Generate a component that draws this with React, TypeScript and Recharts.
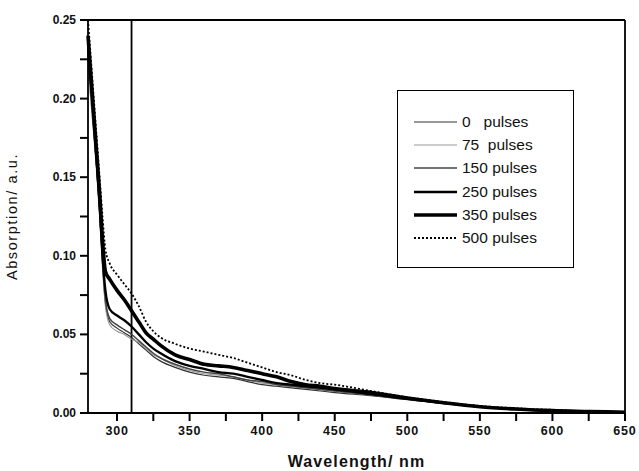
import React from "react";
import { LineChart, Line, XAxis, YAxis, ReferenceLine } from "recharts";

// wavelength (nm)
const wavelengths = [
  280, 282, 284, 286, 288, 290, 292, 295, 300, 305, 310, 315, 320, 325, 330, 340, 350, 360, 370, 380,
  390, 400, 410, 420, 430, 440, 450, 475, 500, 525, 550, 575, 600, 625, 650,
];

const pulses0 = [
  0.225, 0.2, 0.178, 0.155, 0.128, 0.095, 0.07, 0.058, 0.054, 0.051, 0.048, 0.044, 0.04, 0.036, 0.033,
  0.029, 0.026, 0.024, 0.023, 0.022, 0.02, 0.018, 0.017, 0.016, 0.015, 0.014, 0.013, 0.011, 0.0085,
  0.006, 0.004, 0.0025, 0.0015, 0.001, 0.0005,
];
const pulses75 = [
  0.22, 0.198, 0.176, 0.152, 0.125, 0.092, 0.068, 0.056, 0.052, 0.05, 0.047, 0.045, 0.041, 0.037, 0.035,
  0.03, 0.027, 0.025, 0.024, 0.023, 0.021, 0.019, 0.018, 0.017, 0.016, 0.015, 0.014, 0.0115, 0.009,
  0.006, 0.004, 0.0025, 0.0015, 0.001, 0.0005,
];
const pulses150 = [
  0.23, 0.205, 0.18, 0.157, 0.13, 0.097, 0.072, 0.06, 0.056, 0.053, 0.05, 0.046, 0.042, 0.038, 0.035,
  0.031, 0.028, 0.026, 0.025, 0.023, 0.021, 0.02, 0.018, 0.017, 0.016, 0.015, 0.014, 0.0115, 0.009,
  0.0062, 0.004, 0.0025, 0.0015, 0.001, 0.0005,
];
const pulses250 = [
  0.235, 0.21, 0.185, 0.16, 0.132, 0.1, 0.078, 0.066, 0.062, 0.059, 0.055, 0.05, 0.045, 0.041, 0.038,
  0.033, 0.03, 0.028, 0.026, 0.025, 0.023, 0.021, 0.019, 0.018, 0.017, 0.016, 0.015, 0.012, 0.009,
  0.0065, 0.004, 0.0025, 0.0015, 0.001, 0.0005,
];
const pulses350 = [
  0.24, 0.215, 0.19, 0.165, 0.14, 0.11, 0.09, 0.085, 0.078, 0.072, 0.065, 0.058, 0.051, 0.047, 0.043,
  0.037, 0.034, 0.031, 0.03, 0.029, 0.027, 0.025, 0.023, 0.02, 0.018, 0.017, 0.0155, 0.013, 0.0095,
  0.0065, 0.004, 0.0025, 0.0015, 0.001, 0.0005,
];
const pulses500 = [
  0.25, 0.225, 0.2, 0.175, 0.15, 0.125, 0.104, 0.095, 0.088, 0.082, 0.076, 0.068, 0.058, 0.052, 0.048,
  0.044, 0.041, 0.039, 0.037, 0.035, 0.032, 0.029, 0.026, 0.024, 0.021, 0.019, 0.018, 0.014, 0.01,
  0.007, 0.0045, 0.003, 0.002, 0.001, 0.0005,
];

const xTicks = [300, 325, 350, 375, 400, 425, 450, 475, 500, 525, 550, 575, 600, 625, 650];
const yTicks = [0, 0.025, 0.05, 0.075, 0.1, 0.125, 0.15, 0.175, 0.2, 0.225, 0.25];

const series = [
  { key: "p0", label: "0   pulses", values: pulses0, color: "#333", width: 1.2, dash: undefined },
  { key: "p75", label: "75  pulses", values: pulses75, color: "#9a9a9a", width: 1.1, dash: undefined },
  { key: "p150", label: "150 pulses", values: pulses150, color: "#444", width: 1.5, dash: undefined },
  { key: "p250", label: "250 pulses", values: pulses250, color: "#000", width: 2.3, dash: undefined },
  { key: "p350", label: "350 pulses", values: pulses350, color: "#000", width: 3.6, dash: undefined },
  { key: "p500", label: "500 pulses", values: pulses500, color: "#000", width: 1.8, dash: "2 2" },
];

const data = wavelengths.map((w, i) => {
  const row: Record<string, number> = { w };
  series.forEach((s) => (row[s.key] = s.values[i]));
  return row;
});

const font = "'Liberation Sans', Arial, sans-serif";

// labels only every 50 nm / 0.05, the other ticks are unlabelled minor marks
const XTick = (props: any) => {
  const { x, y, payload } = props;
  if (payload.value % 50 !== 0) return <g />;
  return (
    <text x={x} y={y + 12} textAnchor="middle" fontFamily={font} fontWeight="bold" fontSize={12.5} fill="#111" letterSpacing={0.8}>
      {payload.value}
    </text>
  );
};

const YTick = (props: any) => {
  const { x, y, payload } = props;
  if (Math.round(payload.value * 1000) % 50 !== 0) return <g />;
  return (
    <text x={x - 2} y={y + 4} textAnchor="end" fontFamily={font} fontWeight="bold" fontSize={12} fill="#111">
      {payload.value.toFixed(2)}
    </text>
  );
};

const LegendBox = () => (
  <div
    style={{
      position: "absolute",
      left: 397,
      top: 90,
      width: 177,
      height: 178,
      border: "1.5px solid #000",
      background: "#fff",
      boxSizing: "border-box",
      paddingTop: 19,
      fontFamily: font,
      fontSize: 15.5,
    }}
  >
    {series.map((s) => (
      <div key={s.key} style={{ display: "flex", alignItems: "center", height: 23.3 }}>
        <svg width={64} height={10} style={{ flexShrink: 0 }}>
          <line x1={16} x2={59} y1={5} y2={5} stroke={s.color} strokeWidth={s.width} strokeDasharray={s.dash} />
        </svg>
        <span style={{ whiteSpace: "pre", color: "#111" }}>{s.label}</span>
      </div>
    ))}
  </div>
);

export default function App() {
  return (
    <div style={{ position: "absolute", left: 0, top: 0, width: 639, height: 471, background: "#fff" }}>
      <LineChart width={639} height={471} data={data} margin={{ top: 20, right: 14, bottom: 0, left: 0 }}>
        <XAxis
          dataKey="w"
          type="number"
          domain={[280, 650]}
          ticks={xTicks}
          stroke="#000"
          tickSize={8}
          tickLine={{ stroke: "#000", strokeWidth: 2 }}
          tick={<XTick />}
          axisLine={{ stroke: "#000", strokeWidth: 1.8 }}
          height={58}
          label={{
            value: "Wavelength/ nm",
            position: "insideBottom",
            offset: 4,
            style: { fontFamily: font, fontWeight: "bold", fontSize: 16, fill: "#111", letterSpacing: 1.1 },
          }}
        />
        <YAxis
          type="number"
          domain={[0, 0.25]}
          ticks={yTicks}
          stroke="#000"
          tickSize={8}
          tickLine={{ stroke: "#000", strokeWidth: 2 }}
          tick={<YTick />}
          axisLine={{ stroke: "#000", strokeWidth: 1.8 }}
          width={88}
          label={{
            value: "Absorption/ a.u.",
            angle: -90,
            position: "insideLeft",
            offset: 12,
            style: { fontFamily: font, fontSize: 14.5, fill: "#111", letterSpacing: 1.6, textAnchor: "middle" },
          }}
        />
        <ReferenceLine y={0.25} stroke="#000" strokeWidth={1.8} />
        <ReferenceLine x={650} stroke="#000" strokeWidth={1.8} />
        <ReferenceLine x={310} stroke="#000" strokeWidth={1.8} />
        {series.map((s) => (
          <Line
            key={s.key}
            dataKey={s.key}
            name={s.label}
            type="monotone"
            stroke={s.color}
            strokeWidth={s.width}
            strokeDasharray={s.dash}
            dot={false}
            isAnimationActive={false}
          />
        ))}
      </LineChart>
      <LegendBox />
    </div>
  );
}
